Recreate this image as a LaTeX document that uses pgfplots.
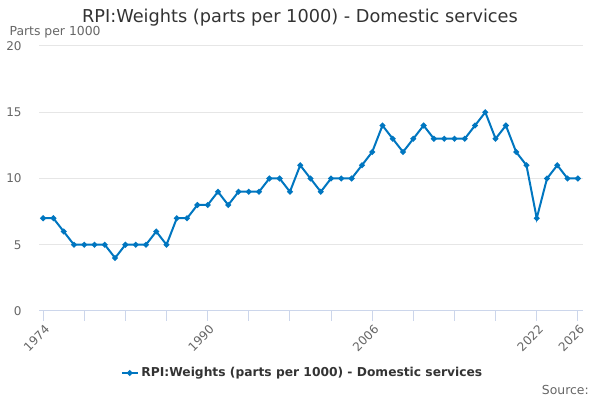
\documentclass[border=0pt]{standalone}
\usepackage{pgfplots}
\pgfplotsset{compat=1.18}
\usepackage{fontspec}
\setmainfont{DejaVu Sans}
\definecolor{ln}{HTML}{0076C0}
\definecolor{grd}{HTML}{E6E6E6}
\definecolor{axl}{HTML}{CCD6EB}
\definecolor{lbl}{HTML}{666666}
\definecolor{ttl}{HTML}{333333}
\begin{document}
\begin{tikzpicture}
\path[use as bounding box] (0pt,0pt) rectangle (450pt,300pt);
\node[text=ttl,font=\fontsize{13.3}{15}\selectfont] at (225pt,286.5pt) {RPI:Weights (parts per 1000) - Domestic services};
\node[text=lbl,font=\fontsize{9.3}{11}\selectfont,anchor=west,inner sep=0pt] at (7pt,276pt) {Parts per 1000};
\node[text=lbl,font=\fontsize{9.3}{11}\selectfont,anchor=east,inner sep=0pt] at (441.75pt,7.5pt) {Source:};
\begin{axis}[
  at={(29.25pt,66.75pt)}, anchor=origin,
  scale only axis, width=408pt, height=198.75pt,
  xmin=1973.6, xmax=2026.5, ymin=0, ymax=20,
  axis x line*=bottom,
  x axis line style={draw=axl, line width=0.75pt, -},
  axis y line*=left,
  y axis line style={draw=none},
  xtick={1974,1990,2006,2022,2026},
  xticklabels={1974,1990,2006,2022,2026},
  minor xtick={1978,1982,1986,1994,1998,2002,2010,2014,2018},
  ytick={0,5,10,15,20},
  ymajorgrids, grid style={grd, line width=0.75pt},
  tick align=outside,
  x tick style={axl, line width=0.75pt},
  major tick length=7.5pt, minor tick length=7.5pt,
  y tick style={draw=none},
  xticklabel style={rotate=45, anchor=north east, text=lbl, font=\fontsize{9}{10}\selectfont, inner sep=1pt, yshift=-1pt},
  yticklabel style={text=lbl, font=\fontsize{9}{10}\selectfont, xshift=-2pt},
  /pgf/number format/assume math mode=true,
  legend style={at={(0.485,-0.234)}, anchor=center, draw=none, fill=none, font=\bfseries\fontsize{9.2}{11}\selectfont, text=ttl},
  legend image code/.code={\draw[ln, line width=1.5pt] (0pt,0pt) -- (12pt,0pt); \fill[ln] (6pt,0pt) circle (1.3pt);},
  clip=false,
]
\addplot[ln, line width=1.5pt, mark=*, mark size=1.3pt, mark options={solid}] coordinates {
(1974,7)(1975,7)(1976,6)(1977,5)(1978,5)(1979,5)(1980,5)(1981,4)(1982,5)(1983,5)
(1984,5)(1985,6)(1986,5)(1987,7)(1988,7)(1989,8)(1990,8)(1991,9)(1992,8)(1993,9)
(1994,9)(1995,9)(1996,10)(1997,10)(1998,9)(1999,11)(2000,10)(2001,9)(2002,10)(2003,10)
(2004,10)(2005,11)(2006,12)(2007,14)(2008,13)(2009,12)(2010,13)(2011,14)(2012,13)(2013,13)
(2014,13)(2015,13)(2016,14)(2017,15)(2018,13)(2019,14)(2020,12)(2021,11)(2022,7)(2023,10)
(2024,11)(2025,10)(2026,10)};
\addlegendentry{RPI:Weights (parts per 1000) - Domestic services}
\end{axis}
\end{tikzpicture}
\end{document}
